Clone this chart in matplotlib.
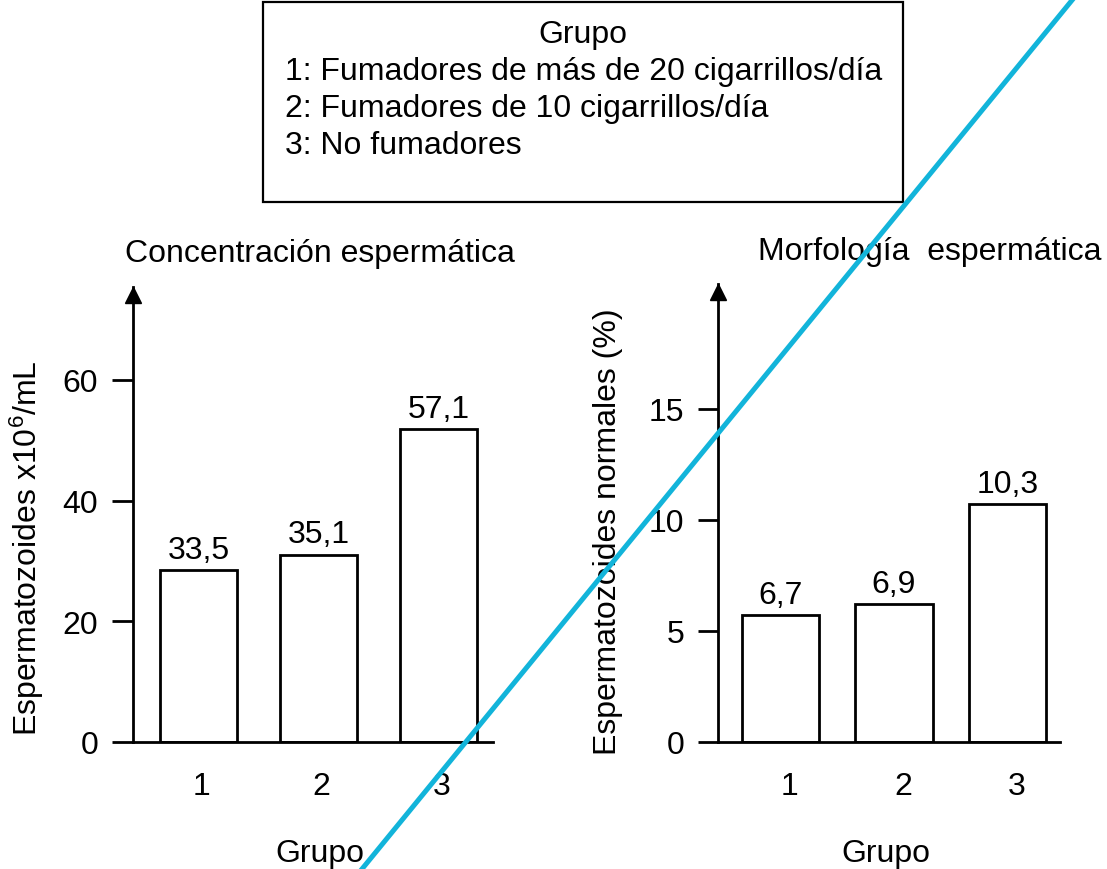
import matplotlib
matplotlib.use("Agg")
import matplotlib.pyplot as plt
from matplotlib.lines import Line2D
from matplotlib.patches import Rectangle
import matplotlib.transforms as mtransforms

plt.rcParams['font.family'] = ['Liberation Sans', 'DejaVu Sans']
plt.rcParams['mathtext.fontset'] = 'custom'
plt.rcParams['mathtext.rm'] = 'Liberation Sans'
plt.rcParams['mathtext.it'] = 'Liberation Sans:italic'

# ---- data ----
groups = ['1', '2', '3']
conc_bars = [28.5, 31.0, 51.8]          # drawn bar heights (x10^6/mL)
conc_labels = ['33,5', '35,1', '57,1']  # printed values
conc_ticks = [0, 20, 40, 60]
morf_bars = [5.7, 6.2, 10.7]            # drawn bar heights (%)
morf_labels = ['6,7', '6,9', '10,3']
morf_ticks = [0, 5, 10, 15]
legend_title = 'Grupo'
legend_lines = ['1: Fumadores de más de 20 cigarrillos/día',
                '2: Fumadores de 10 cigarrillos/día',
                '3: No fumadores']

W, H = 1107, 870
fig = plt.figure(figsize=(W / 100, H / 100), dpi=100)
FS = 23


def fx(px):
    return px / W


def fy(py):
    return 1 - py / H


def panel(rect, bars, labels, ticks, ylim, xlim, width, ticklen, xoff):
    ax = fig.add_axes(rect)
    x = list(range(1, len(groups) + 1))
    ax.bar(x, bars, width=width, facecolor='white', edgecolor='black',
           linewidth=2, zorder=2)
    for xi, b, lab in zip(x, bars, labels):
        ax.annotate(lab, (xi, b), xytext=(0, 9), textcoords='offset points',
                    ha='center', va='baseline', fontsize=FS)
    ax.set_xlim(*xlim)
    ax.set_ylim(*ylim)
    for s in ['top', 'right']:
        ax.spines[s].set_visible(False)
    for s in ['left', 'bottom']:
        ax.spines[s].set_linewidth(2)
    ax.set_yticks(ticks)
    ax.set_yticklabels([str(t) for t in ticks], fontsize=FS)
    ax.tick_params(axis='y', direction='out', length=ticklen, width=2, pad=10)
    ax.set_xticks(x)
    ax.set_xticklabels(groups, fontsize=FS)
    ax.tick_params(axis='x', length=0, pad=21)
    off = mtransforms.ScaledTranslation(xoff / 100, 0, fig.dpi_scale_trans)
    for t in ax.get_xticklabels():
        t.set_transform(t.get_transform() + off)
    # arrow head on the y axis
    tr = ax.transAxes + mtransforms.ScaledTranslation(0, -0.075, fig.dpi_scale_trans)
    ax.plot([0], [1], marker='^', markersize=11, color='black',
            transform=tr, clip_on=False, zorder=5)
    return ax


# left panel: y-axis at x=133px, x-axis at y=743px, arrow tip at 288px
ax1 = panel([fx(133), fy(743), fx(493) - fx(133), fy(288) - fy(743)],
            conc_bars, conc_labels, conc_ticks, (0, 75.4), (0.454, 3.454),
            0.64, 15, 3)
ax2 = panel([fx(718), fy(743), fx(1060) - fx(718), fy(285) - fy(743)],
            morf_bars, morf_labels, morf_ticks, (0, 20.6), (0.449, 3.463),
            0.68, 14.4, 9)

# titles
fig.text(fx(125), fy(262), 'Concentración espermática', fontsize=FS,
         ha='left', va='baseline')
fig.text(fx(758), fy(260), 'Morfología  espermática', fontsize=FS,
         ha='left', va='baseline')

# axis labels
fig.text(fx(27), fy(548), r'Espermatozoides x10$^{\mathrm{6}}$/mL',
         fontsize=FS, rotation=90, ha='center', va='center')
fig.text(fx(608), fy(532), 'Espermatozoides normales (%)',
         fontsize=FS, rotation=90, ha='center', va='center')
fig.text(fx(320), fy(862), 'Grupo', fontsize=FS, ha='center', va='baseline')
fig.text(fx(886), fy(862), 'Grupo', fontsize=FS, ha='center', va='baseline')

# legend box
fig.add_artist(Rectangle((fx(263), fy(203)), fx(903) - fx(263), fy(3) - fy(203),
                         transform=fig.transFigure, facecolor='white',
                         edgecolor='black', linewidth=1.6, zorder=1))
fig.text(fx(583), fy(43), legend_title, fontsize=FS, ha='center', va='baseline')
for i, line in enumerate(legend_lines):
    fig.text(fx(285), fy(80 + 37 * i), line, fontsize=FS, ha='left',
             va='baseline')

# cyan diagonal stroke across the figure
def cx(py):
    return 362 + 711 * (870 - py) / 870

fig.add_artist(Line2D([fx(cx(880)), fx(cx(-10))], [fy(880), fy(-10)],
                      transform=fig.transFigure, color='#12B4DA',
                      linewidth=3.6, zorder=20))

fig.savefig('out.png', dpi=100)
